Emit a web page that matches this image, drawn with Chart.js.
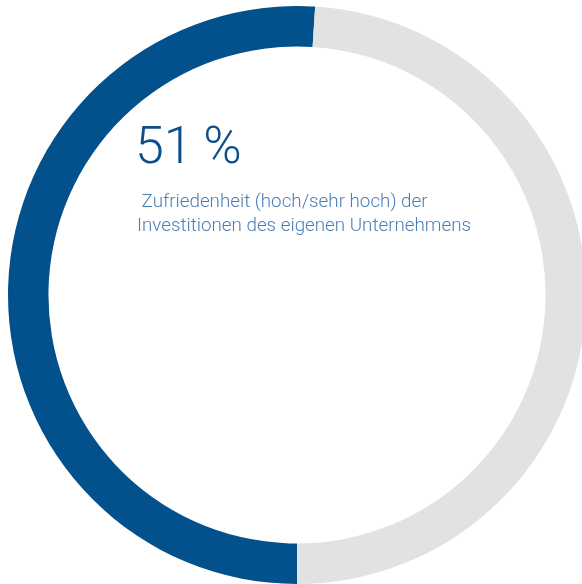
<!DOCTYPE html>
<html>
<head>
    <meta charset="utf-8">
    <title>Zufriedenheit Investitionen</title>
    <script src="https://cdn.jsdelivr.net/npm/chart.js"></script>
    <style>
        html, body { margin: 0; padding: 0; background: #fff; overflow: hidden; }
        body { width: 582px; height: 584px; position: relative; }
        .chart-box { position: absolute; left: 8px; top: 6px; width: 578px; height: 578px; }
        .big { position: absolute; left: 135px; top: 120px; font-family: Roboto, "Liberation Sans", sans-serif;
               font-weight: 300; font-size: 52px; color: #0a4f8a; line-height: 1; white-space: nowrap; }
        .sub { position: absolute; left: 137px; top: 190px; font-family: Roboto, "Liberation Sans", sans-serif;
               font-weight: 300; font-size: 18.8px; color: #4a7db5; line-height: 23.5px; white-space: nowrap; }
    </style>
</head>
<body>
    <div class="chart-box"><canvas id="chart"></canvas></div>
    <div class="big" id="bigValue"></div>
    <div class="sub" id="caption"></div>

    <script>
        // Werte aus der Grafik
        var labels = ['hoch/sehr hoch', 'Rest'];
        var values = [51, 49];
        var colors = ['#02508c', '#e1e2e2'];
        var captionLines = ['\u00a0Zufriedenheit (hoch/sehr hoch) der', 'Investitionen des eigenen Unternehmens'];

        document.getElementById('bigValue').textContent = values[0] + '\u2009%';
        document.getElementById('caption').innerHTML = captionLines.join('<br>');

        new Chart(document.getElementById('chart'), {
            type: 'doughnut',
            data: {
                labels: labels,
                datasets: [{
                    data: values,
                    backgroundColor: colors,
                    borderWidth: 0
                }]
            },
            options: {
                responsive: true,
                maintainAspectRatio: false,
                animation: false,
                rotation: 180,
                cutout: '86%',
                plugins: {
                    legend: { display: false },
                    tooltip: { enabled: false }
                }
            }
        });
    </script>
</body>
</html>
